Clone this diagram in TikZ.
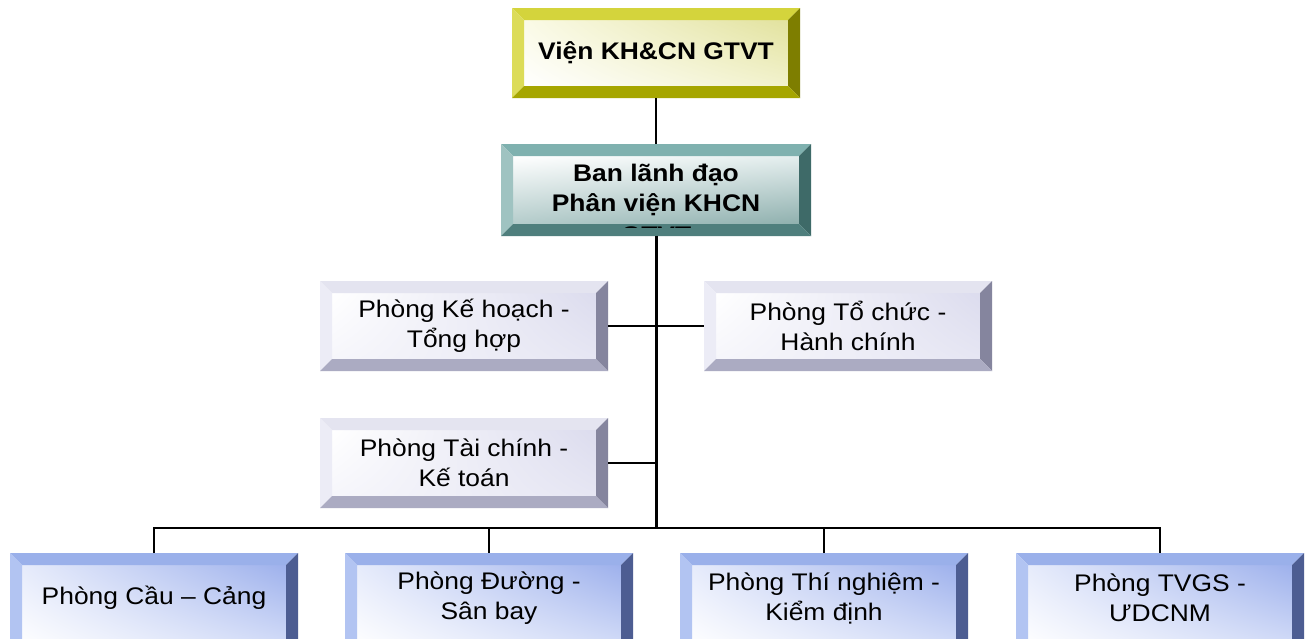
\documentclass[tikz,border=0pt]{standalone}
\usepackage{fontspec}
\setmainfont{Liberation Sans}[FakeStretch=1.1]
\usetikzlibrary{calc,shadings}
\definecolor{yT}{HTML}{D4D43C}\definecolor{yL}{HTML}{DCDC58}\definecolor{yR}{HTML}{7E7E00}\definecolor{yB}{HTML}{A6A600}
\definecolor{yUL}{HTML}{FAFAE6}\definecolor{yUR}{HTML}{E2E29E}\definecolor{yLL}{HTML}{FFFFFF}\definecolor{yLR}{HTML}{F2F2CC}
\definecolor{tT}{HTML}{7FB1AF}\definecolor{tL}{HTML}{9FC3C1}\definecolor{tR}{HTML}{3E6A68}\definecolor{tB}{HTML}{4F7F7D}
\definecolor{tUL}{HTML}{FFFFFF}\definecolor{tUR}{HTML}{E4EEEE}\definecolor{tLL}{HTML}{B4CCCB}\definecolor{tLR}{HTML}{8FB0AE}
\definecolor{lT}{HTML}{E4E4F0}\definecolor{lL}{HTML}{ECECF6}\definecolor{lR}{HTML}{85859E}\definecolor{lB}{HTML}{ABABC2}
\definecolor{lUL}{HTML}{FFFFFF}\definecolor{lUR}{HTML}{DCDCEE}\definecolor{lLL}{HTML}{F6F6FB}\definecolor{lLR}{HTML}{E6E6F3}
\definecolor{bT}{HTML}{9AB0EA}\definecolor{bL}{HTML}{B2C4F2}\definecolor{bR}{HTML}{4D5D92}\definecolor{bB}{HTML}{7A90D0}
\definecolor{bUL}{HTML}{E6EBFB}\definecolor{bUR}{HTML}{9EB1EC}\definecolor{bLL}{HTML}{FFFFFF}\definecolor{bLR}{HTML}{D4DDF8}
% #1 x1, #2 y1, #3 x2, #4 y2, #5 colour prefix
\newcommand\bevelbox[5]{%
  \def\bw{12}%
  \shade[upper left=#5UL, upper right=#5UR, lower left=#5LL, lower right=#5LR]
    (#1+\bw,#2+\bw) rectangle (#3-\bw,#4-\bw);
  \fill[#5T] (#1,#2) -- (#3,#2) -- (#3-\bw,#2+\bw) -- (#1+\bw,#2+\bw) -- cycle;
  \fill[#5L] (#1,#2) -- (#1+\bw,#2+\bw) -- (#1+\bw,#4-\bw) -- (#1,#4) -- cycle;
  \fill[#5R] (#3,#2) -- (#3,#4) -- (#3-\bw,#4-\bw) -- (#3-\bw,#2+\bw) -- cycle;
  \fill[#5B] (#1,#4) -- (#3,#4) -- (#3-\bw,#4-\bw) -- (#1+\bw,#4-\bw) -- cycle;
}
\tikzset{
  boxnode/.style={minimum width=288pt, minimum height=90pt, inner sep=0pt, align=center,
    font=\fontsize{24}{30}\selectfont},
  topnode/.style={boxnode, font=\fontsize{24}{30}\selectfont\bfseries},
  bannode/.style={boxnode, minimum width=310pt, minimum height=91pt, font=\fontsize{24}{30}\selectfont\bfseries},
  thinline/.style={line width=1.3pt},
  mainline/.style={line width=3pt},
  conn/.style={line width=1.8pt}
}
\begin{document}
\begin{tikzpicture}[x=1pt,y=-1pt]
\clip (0,0) rectangle (1308,638);
\fill[white] (0,0) rectangle (1308,638);
% boxes
\bevelbox{512}{8}{800}{98}{y}
\node[topnode] (vien) at (656,53) {Viện KH\&CN GTVT};
\bevelbox{501}{144}{811}{236}{t}
\begin{scope}
\clip (501,144) rectangle (811,227);
\node[font=\fontsize{24}{30}\selectfont\bfseries, inner sep=0pt, anchor=base] (gtvt) at (656,243) {GTVT};
\end{scope}
\node[bannode] (ban) at (656,190) {Ban lãnh đạo\\Phân viện KHCN};
\bevelbox{320}{281}{608}{371}{l}
\node[boxnode] (kh) at (464,326) {Phòng Kế hoạch -\\Tổng hợp};
\bevelbox{704}{281}{992}{371}{l}
\node[boxnode] (tc) at (848,326) {Phòng Tổ chức -\\Hành chính};
\bevelbox{320}{418}{608}{508}{l}
\node[boxnode] (tckt) at (464,463) {Phòng Tài chính -\\Kế toán};
\bevelbox{10}{553}{298}{660}{b}
\node[boxnode] (cau) at (154,598) {Phòng Cầu – Cảng};
\bevelbox{345}{553}{633}{660}{b}
\node[boxnode] (duong) at (489,598) {Phòng Đường -\\Sân bay};
\bevelbox{680}{553}{968}{660}{b}
\node[boxnode] (tn) at (824,598) {Phòng Thí nghiệm -\\Kiểm định};
\bevelbox{1016}{553}{1304}{660}{b}
\node[boxnode] (tvgs) at (1160,598) {Phòng TVGS -\\ƯDCNM};
% connectors
\coordinate (bus) at (656,528);
\draw[thinline] (vien.south) -- (ban.north);
\draw[mainline] (ban.south) -- (bus);
\draw[conn] (kh.east) -- (tc.west);
\draw[conn] (tckt.east) -- (tckt.east -| bus);
\draw[conn] (cau.north) |- (bus) -| (tvgs.north);
\draw[conn] (duong.north) |- (bus);
\draw[conn] (tn.north) |- (bus);
\end{tikzpicture}
\end{document}
